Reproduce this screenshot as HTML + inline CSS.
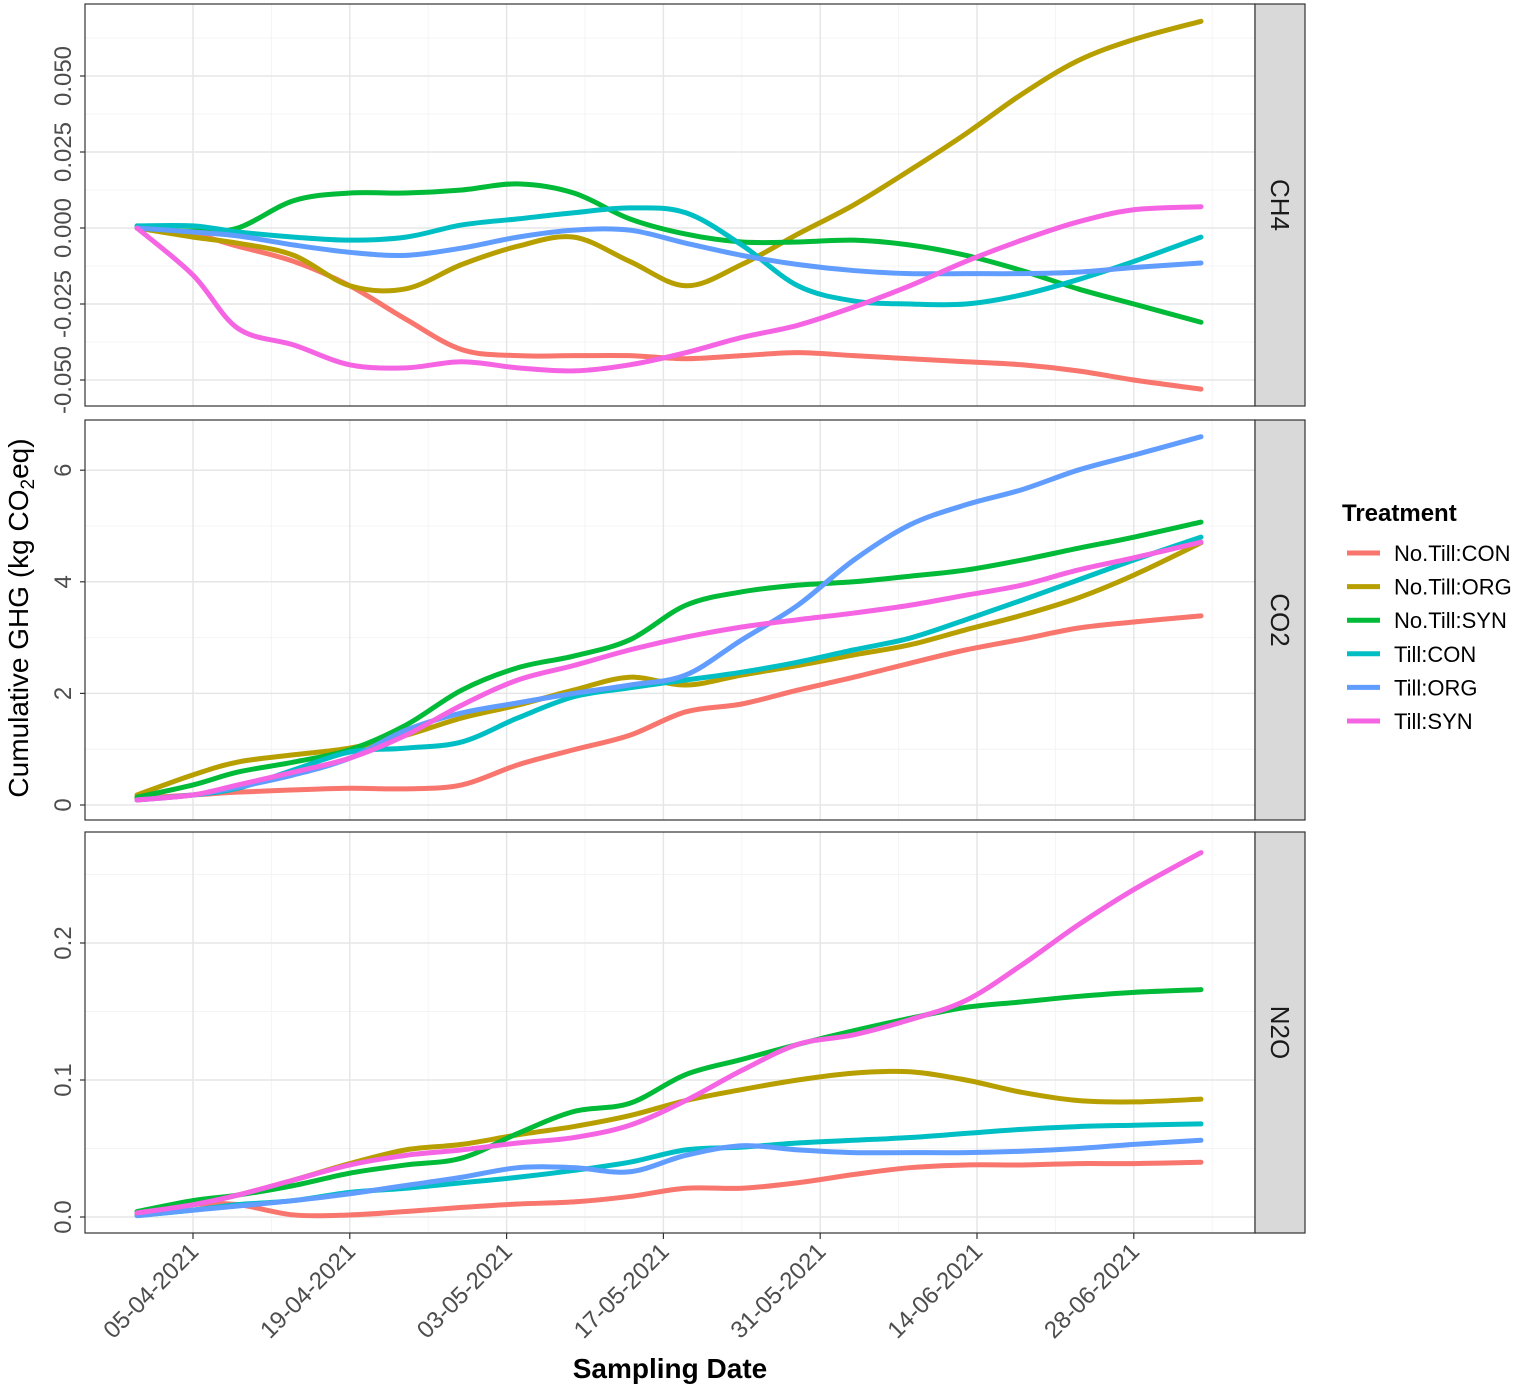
<!DOCTYPE html>
<html><head><meta charset="utf-8"><style>
html,body{margin:0;padding:0;background:#fff}
svg{display:block;font-family:"Liberation Sans",sans-serif}
</style></head><body>
<svg id="chart" width="1535" height="1389" viewBox="0 0 1535 1389"></svg>
<script>
const days=[-5,0,4,9,14,19,24,29,34,39,44,49,54,59,64,69,74,79,84,90];
const seriesNames=["No.Till:CON","No.Till:ORG","No.Till:SYN","Till:CON","Till:ORG","Till:SYN"];
const seriesColors=["#F8766D","#B79F00","#00BA38","#00BFC4","#619CFF","#F564E3"];
const tickDays=[0,14,28,42,56,70,84];
const tickLabels=["05-04-2021","19-04-2021","03-05-2021","17-05-2021","31-05-2021","14-06-2021","28-06-2021"];
const ch4Ticks=[-0.05,-0.025,0,0.025,0.05];
const ch4TickLabels=["-0.050","-0.025","0.000","0.025","0.050"];
const co2Ticks=[0,2,4,6];
const co2TickLabels=["0","2","4","6"];
const n2oTicks=[0,0.1,0.2];
const n2oTickLabels=["0.0","0.1","0.2"];
const ch4Data=[
[0,-0.002,-0.006,-0.011,-0.019,-0.030,-0.040,-0.042,-0.042,-0.042,-0.043,-0.042,-0.041,-0.042,-0.043,-0.044,-0.045,-0.047,-0.050,-0.053],
[0,-0.003,-0.005,-0.009,-0.019,-0.020,-0.012,-0.006,-0.003,-0.011,-0.019,-0.012,-0.002,0.0076,0.019,0.031,0.044,0.055,0.062,0.068],
[0,-0.001,0,0.009,0.0115,0.0115,0.0125,0.0145,0.0115,0.003,-0.002,-0.0046,-0.0046,-0.004,-0.0056,-0.009,-0.014,-0.020,-0.025,-0.031],
[0.0007,0.0007,-0.0013,-0.003,-0.004,-0.003,0.001,0.003,0.005,0.0066,0.005,-0.0056,-0.019,-0.024,-0.025,-0.025,-0.022,-0.017,-0.011,-0.003],
[0,-0.0013,-0.0026,-0.0056,-0.008,-0.009,-0.0066,-0.003,-0.0007,-0.0007,-0.005,-0.009,-0.012,-0.014,-0.015,-0.015,-0.015,-0.0145,-0.013,-0.0115],
[0,-0.0155,-0.033,-0.0385,-0.045,-0.046,-0.044,-0.046,-0.047,-0.045,-0.041,-0.036,-0.032,-0.026,-0.019,-0.011,-0.004,0.002,0.006,0.007]];
const co2Data=[
[0.12,0.18,0.23,0.27,0.30,0.29,0.36,0.72,0.99,1.25,1.67,1.81,2.06,2.29,2.54,2.78,2.97,3.17,3.28,3.39],
[0.18,0.54,0.77,0.90,1.02,1.25,1.56,1.79,2.06,2.29,2.15,2.33,2.50,2.69,2.87,3.14,3.40,3.71,4.12,4.70],
[0.14,0.36,0.59,0.77,0.99,1.43,2.06,2.46,2.67,2.96,3.58,3.82,3.94,4.00,4.10,4.21,4.39,4.60,4.80,5.07],
[0.09,0.18,0.30,0.63,0.95,1.02,1.13,1.56,1.94,2.10,2.24,2.38,2.56,2.78,2.99,3.32,3.67,4.03,4.39,4.80],
[0.09,0.18,0.32,0.54,0.84,1.34,1.65,1.83,2.00,2.15,2.33,2.96,3.58,4.39,5.02,5.38,5.65,6.00,6.27,6.60],
[0.09,0.18,0.36,0.59,0.84,1.25,1.79,2.24,2.50,2.78,3.01,3.19,3.32,3.44,3.58,3.76,3.94,4.21,4.43,4.71]];
const n2oData=[
[0.0015,0.009,0.009,0.0015,0.0015,0.004,0.007,0.0095,0.011,0.015,0.021,0.021,0.025,0.031,0.036,0.038,0.038,0.039,0.039,0.040],
[0.002,0.009,0.016,0.027,0.039,0.049,0.053,0.060,0.066,0.074,0.085,0.093,0.100,0.105,0.106,0.100,0.091,0.085,0.084,0.086],
[0.004,0.012,0.016,0.023,0.032,0.038,0.043,0.061,0.077,0.083,0.104,0.115,0.126,0.136,0.145,0.153,0.157,0.161,0.164,0.166],
[0.001,0.005,0.009,0.012,0.018,0.021,0.025,0.029,0.034,0.040,0.049,0.051,0.054,0.056,0.058,0.061,0.064,0.066,0.067,0.068],
[0.001,0.005,0.008,0.012,0.017,0.023,0.029,0.036,0.036,0.033,0.045,0.052,0.049,0.047,0.047,0.047,0.048,0.050,0.053,0.056],
[0.003,0.009,0.016,0.027,0.038,0.045,0.049,0.054,0.058,0.067,0.085,0.107,0.126,0.133,0.144,0.158,0.184,0.213,0.239,0.266]];

const NS="http://www.w3.org/2000/svg";
const svg=document.getElementById('chart');
function mk(tag,attrs,parent){const e=document.createElementNS(NS,tag);for(const k in attrs)e.setAttribute(k,attrs[k]);(parent||svg).appendChild(e);return e;}
const X0=85,X1=1255;
const xScale=d=>193+d*11.2;
const panels=[
{name:"ch4",label:"CH4",top:4,bot:406,data:ch4Data,ticks:ch4Ticks,tl:ch4TickLabels,y:v=>228-v/0.025*76},
{name:"co2",label:"CO2",top:420,bot:820,data:co2Data,ticks:co2Ticks,tl:co2TickLabels,y:v=>805-v*55.8},
{name:"n2o",label:"N2O",top:832,bot:1233,data:n2oData,ticks:n2oTicks,tl:n2oTickLabels,y:v=>1217-v*1370}];
function smooth(pts){let d="M"+pts[0][0]+","+pts[0][1];
for(let i=0;i<pts.length-1;i++){const p0=pts[Math.max(0,i-1)],p1=pts[i],p2=pts[i+1],p3=pts[Math.min(pts.length-1,i+2)];
const c1=[p1[0]+(p2[0]-p0[0])/6,p1[1]+(p2[1]-p0[1])/6],c2=[p2[0]-(p3[0]-p1[0])/6,p2[1]-(p3[1]-p1[1])/6];
d+=" C"+c1[0]+","+c1[1]+" "+c2[0]+","+c2[1]+" "+p2[0]+","+p2[1];}return d;}
panels.forEach(p=>{
 const g=mk('g',{});
 
 
 mk('rect',{x:X0,y:p.top,width:X1-X0,height:p.bot-p.top,fill:'#fff'},g);
 for(let i=-1;i<tickDays.length;i++){const d=(i<0?-7:tickDays[i])+7;const x=xScale(d);if(x>X0&&x<X1)mk('line',{x1:x,x2:x,y1:p.top,y2:p.bot,stroke:'#f4f4f4','stroke-width':1},g);}
 const step=p.ticks[1]-p.ticks[0];
 for(let v=p.ticks[0]-step/2;v<=p.ticks[p.ticks.length-1]+step;v+=step){const y=p.y(v);if(y>p.top&&y<p.bot)mk('line',{x1:X0,x2:X1,y1:y,y2:y,stroke:'#f4f4f4','stroke-width':1},g);}
 tickDays.forEach(d=>{const x=xScale(d);mk('line',{x1:x,x2:x,y1:p.top,y2:p.bot,stroke:'#e6e6e6','stroke-width':1.5},g);});
 p.ticks.forEach((v,i)=>{const y=p.y(v);mk('line',{x1:X0,x2:X1,y1:y,y2:y,stroke:'#e6e6e6','stroke-width':1.5},g);
  mk('line',{x1:X0-5,x2:X0,y1:y,y2:y,stroke:'#333','stroke-width':1.2},g);
  const t=mk('text',{x:0,y:0,transform:`translate(71,${y}) rotate(-90)`,'text-anchor':'middle','font-size':24,fill:'#4d4d4d'},g);
  t.textContent=p.tl[i];
  
  });
 p.data.forEach((vals,si)=>{const pts=days.map((d,j)=>[xScale(d),p.y(vals[j])]);
  const path=mk('path',{d:smooth(pts),fill:'none',stroke:seriesColors[si],'stroke-width':5,'stroke-linecap':'round'},g);
  
  });
 mk('rect',{x:X0,y:p.top,width:X1-X0,height:p.bot-p.top,fill:'none',stroke:'#333','stroke-width':1.2},g);
 const s=mk('rect',{x:X1,y:p.top,width:50,height:p.bot-p.top,fill:'#d9d9d9',stroke:'#333','stroke-width':1.2},g);
 
 
 const st=mk('text',{x:0,y:0,transform:`translate(1271,${(p.top+p.bot)/2}) rotate(90)`,'text-anchor':'middle','font-size':26,fill:'#1a1a1a'},g);
 st.textContent=p.label;
 
 
});
tickDays.forEach((d,i)=>{const x=xScale(d);mk('line',{x1:x,x2:x,y1:1233,y2:1239,stroke:'#333','stroke-width':1.2});
 const t=mk('text',{x:0,y:0,transform:`translate(${x+7},${1253}) rotate(-45)`,'text-anchor':'end','font-size':24,fill:'#4d4d4d'});
 t.textContent=tickLabels[i];
 
 });
const xt=mk('text',{x:670,y:1378,'text-anchor':'middle','font-size':28,'font-weight':'bold',fill:'#000'});
xt.textContent="Sampling Date";


const yt=mk('text',{x:0,y:0,transform:'translate(28,618) rotate(-90)','text-anchor':'middle','font-size':28,fill:'#000'});
yt.innerHTML='Cumulative GHG (kg CO<tspan font-size="19" dy="6">2</tspan><tspan dy="-6">eq)</tspan>';


const lg=mk('g',{});


const lt=mk('text',{x:1342,y:521,'font-size':24,'font-weight':'bold',fill:'#000'},lg);
lt.textContent="Treatment";


seriesNames.forEach((n,i)=>{const y=553+i*33.6;
 const l=mk('line',{x1:1347,x2:1380,y1:y,y2:y,stroke:seriesColors[i],'stroke-width':5},lg);
 
 
 const t=mk('text',{x:1394,y:y+8,'font-size':22,fill:'#000'},lg);
 t.textContent=n;
 
 });
</script>
</body></html>
